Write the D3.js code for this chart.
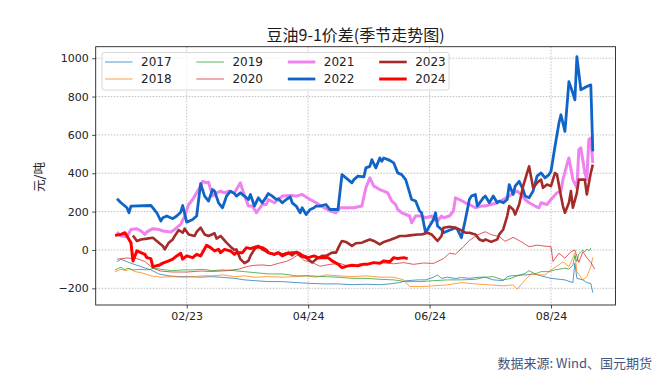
<!DOCTYPE html>
<html>
<head>
<meta charset="utf-8">
<script src="https://cdn.jsdelivr.net/npm/d3@7"></script>
<style>
  body { margin: 0; background: #fff; }
  svg text { font-family: "DejaVu Sans", sans-serif; }
</style>
</head>
<body>
<svg id="chart" width="668" height="378"></svg>
<script>
// series data, [month-day, value in 元/吨]
const years = ["2017", "2018", "2019", "2020", "2021", "2022", "2023", "2024"];
const colors = ["#1f77b4", "#ff7f0e", "#2ca02c", "#d62728", "#ee82ee", "#1064c8", "#a52a2a", "#ff0000"];
const widths = [0.9, 0.9, 0.9, 0.9, 3, 2.8, 2.6, 3];

const d2017 = [["01-19",-61],["01-21",-49],["01-26",-69],["01-31",-87],["02-05",-104],["02-09",-125],["02-14",-135],["02-19",-139],["02-23",-139],["03-01",-142],["03-06",-139],["03-11",-142],["03-18",-148],["03-23",-156],["03-28",-160],["04-04",-165],["04-11",-165],["04-18",-170],["04-25",-174],["05-02",-177],["05-09",-177],["05-16",-181],["05-23",-179],["05-30",-181],["06-04",-177],["06-09",-170],["06-12",-161],["06-18",-156],["06-22",-156],["06-26",-142],["06-28",-130],["06-30",-148],["07-03",-142],["07-07",-149],["07-10",-144],["07-14",-148],["07-19",-142],["07-22",-142],["07-26",-156],["07-31",-160],["08-02",-139],["08-04",-135],["08-11",-130],["08-16",-125],["08-19",-135],["08-24",-148],["08-31",-156],["09-04",-170],["09-05",-69],["09-06",-148],["09-09",-156],["09-11",-170],["09-13",-175],["09-14",-222]];
const d2018 = [["01-18",-113],["01-21",-101],["01-24",-108],["01-25",-95],["01-28",-113],["01-31",-118],["02-05",-135],["02-10",-142],["02-16",-139],["02-21",-142],["02-26",-139],["03-02",-135],["03-07",-135],["03-12",-130],["03-18",-139],["03-23",-135],["03-28",-142],["04-04",-139],["04-11",-142],["04-18",-139],["04-23",-135],["04-28",-142],["05-03",-130],["05-09",-135],["05-16",-139],["05-23",-135],["05-30",-142],["06-06",-142],["06-11",-156],["06-14",-191],["06-20",-191],["06-26",-187],["07-03",-182],["07-10",-170],["07-17",-177],["07-24",-182],["07-31",-187],["08-05",-182],["08-07",-205],["08-11",-156],["08-14",-125],["08-18",-130],["08-21",-130],["08-24",-104],["08-28",-78],["08-30",-61],["09-02",-87],["09-05",-17],["09-06",-113],["09-09",-156],["09-11",-139],["09-13",-87],["09-14",-38]];
const d2019 = [["01-18",-104],["01-21",-90],["01-23",-104],["01-24",-95],["01-27",-104],["01-31",-101],["02-03",-104],["02-07",-95],["02-10",-101],["02-16",-108],["02-21",-104],["02-26",-104],["03-02",-101],["03-07",-108],["03-12",-104],["03-18",-108],["03-23",-113],["03-28",-118],["04-04",-125],["04-11",-125],["04-18",-135],["04-25",-135],["05-02",-139],["05-09",-142],["05-16",-148],["05-23",-148],["05-30",-153],["06-06",-156],["06-12",-165],["06-20",-165],["06-26",-160],["07-03",-156],["07-10",-156],["07-17",-153],["07-22",-142],["07-26",-139],["07-31",-156],["08-04",-148],["08-07",-135],["08-11",-122],["08-13",-108],["08-16",-125],["08-19",-113],["08-23",-113],["08-26",-104],["08-31",-95],["09-02",-100],["09-04",-80],["09-05",-30],["09-06",-60],["09-07",-20],["09-09",0],["09-10",-10],["09-11",5],["09-12",-5],["09-13",10]];
const d2020 = [["01-19",-48],["01-24",-42],["01-29",-45],["02-02",-60],["02-06",-95],["02-10",-110],["02-16",-115],["02-23",-115],["03-01",-110],["03-07",-112],["03-14",-108],["03-20",-100],["03-25",-85],["03-28",-80],["04-01",-78],["04-05",-82],["04-09",-70],["04-13",-60],["04-16",-45],["04-19",-25],["04-22",-55],["04-26",-65],["04-30",-85],["05-05",-75],["05-10",-70],["05-15",-88],["05-20",-72],["05-25",-70],["06-01",-68],["06-06",-72],["06-11",-66],["06-16",-75],["06-21",-68],["06-26",-70],["07-01",-45],["07-04",-17],["07-07",-22],["07-11",17],["07-14",50],["07-18",78],["07-22",95],["07-25",80],["07-29",70],["08-01",45],["08-05",66],["08-09",43],["08-13",17],["08-17",25],["08-21",20],["08-24",17],["08-25",-60],["08-28",-17],["08-31",-43],["09-03",-9],["09-05",0],["09-07",-65],["09-09",-9],["09-11",-40],["09-13",-65],["09-15",-100]];
const d2021 = [["01-19",94],["01-21",73],["01-24",69],["01-26",107],["01-29",111],["01-31",99],["02-02",81],["02-03",94],["02-06",111],["02-09",107],["02-11",99],["02-15",94],["02-17",107],["02-20",133],["02-22",177],["02-24",237],["02-26",263],["02-28",298],["03-01",333],["03-02",358],["03-04",350],["03-05",353],["03-07",281],["03-09",298],["03-11",307],["03-13",298],["03-15",307],["03-18",298],["03-21",350],["03-22",315],["03-25",229],["03-27",229],["03-29",194],["04-01",237],["04-03",237],["04-04",263],["04-07",246],["04-09",263],["04-11",281],["04-15",284],["04-18",281],["04-21",289],["04-25",263],["04-28",246],["05-02",220],["05-05",203],["05-08",194],["05-10",220],["05-14",220],["05-17",220],["05-21",229],["05-23",324],["05-25",376],["05-27",333],["05-30",315],["06-01",307],["06-03",298],["06-05",255],["06-07",237],["06-08",211],["06-10",194],["06-12",185],["06-14",177],["06-15",142],["06-17",177],["06-20",177],["06-22",168],["06-25",177],["06-26",159],["06-28",151],["06-30",177],["07-01",168],["07-04",177],["07-06",203],["07-07",272],["07-09",263],["07-12",246],["07-14",237],["07-17",220],["07-20",229],["07-22",229],["07-25",237],["07-28",246],["07-31",263],["08-03",281],["08-05",298],["08-07",307],["08-09",289],["08-11",263],["08-13",246],["08-16",229],["08-18",220],["08-19",246],["08-22",237],["08-24",263],["08-27",298],["08-29",307],["08-30",367],["09-01",445],["09-02",480],["09-04",367],["09-06",324],["09-07",523],["09-08",532],["09-10",402],["09-11",367],["09-12",575],["09-13",584],["09-14",454]];
const d2022 = [["01-19",267],["01-21",246],["01-24",220],["01-25",194],["01-26",229],["02-05",232],["02-08",194],["02-10",151],["02-11",168],["02-13",177],["02-16",163],["02-18",177],["02-20",197],["02-21",232],["02-23",145],["02-26",159],["02-28",177],["03-01",346],["03-03",281],["03-05",255],["03-07",315],["03-08",307],["03-10",246],["03-12",220],["03-14",281],["03-16",307],["03-18",294],["03-19",281],["03-21",298],["03-23",281],["03-25",263],["03-26",289],["03-28",229],["03-30",272],["04-01",246],["04-03",277],["04-04",294],["04-06",281],["04-08",263],["04-09",267],["04-11",246],["04-13",263],["04-15",277],["04-16",246],["04-18",229],["04-20",194],["04-21",220],["04-23",185],["04-25",211],["04-27",220],["04-28",229],["04-30",229],["05-03",237],["05-05",211],["05-09",211],["05-11",393],["05-13",376],["05-16",350],["05-17",367],["05-19",385],["05-22",381],["05-23",428],["05-25",436],["05-26",471],["05-28",428],["05-30",480],["05-31",462],["06-01",480],["06-04",467],["06-06",454],["06-08",402],["06-10",393],["06-12",367],["06-13",333],["06-15",263],["06-17",255],["06-19",203],["06-20",194],["06-22",90],["06-24",125],["06-26",159],["06-27",194],["06-28",125],["06-30",107],["07-01",90],["07-03",99],["07-05",107],["07-07",116],["07-08",107],["07-10",64],["07-12",159],["07-14",263],["07-15",281],["07-17",289],["07-18",229],["07-21",272],["07-22",281],["07-24",246],["07-26",281],["07-28",246],["07-29",255],["07-31",246],["08-02",263],["08-03",341],["08-05",289],["08-06",333],["08-08",358],["08-10",315],["08-11",281],["08-13",272],["08-15",307],["08-17",385],["08-19",402],["08-21",376],["08-23",393],["08-24",410],["08-26",540],["08-28",662],["08-29",705],["08-31",618],["09-02",878],["09-04",817],["09-05",783],["09-06",1008],["09-08",835],["09-11",852],["09-13",861],["09-14",514]];
const d2023 = [["01-27",76],["01-29",47],["01-31",55],["02-03",59],["02-06",64],["02-09",38],["02-11",21],["02-12",3],["02-14",38],["02-16",55],["02-17",73],["02-19",104],["02-21",90],["02-22",111],["02-24",81],["02-27",73],["02-28",94],["03-01",116],["03-03",81],["03-05",73],["03-08",87],["03-09",59],["03-11",73],["03-14",38],["03-16",17],["03-18",0],["03-19",3],["03-21",-48],["03-23",-69],["03-25",-57],["03-26",-31],["03-28",3],["03-30",21],["04-01",3],["04-04",-14],["04-07",-23],["04-09",-14],["04-11",-23],["04-14",-14],["04-16",-28],["04-18",-10],["04-20",-31],["04-23",-40],["04-26",-66],["04-28",-48],["05-01",-31],["05-03",-31],["05-06",-14],["05-08",-14],["05-10",29],["05-11",47],["05-13",42],["05-16",21],["05-18",35],["05-21",38],["05-23",47],["05-25",55],["05-27",47],["05-30",29],["06-01",42],["06-04",52],["06-07",64],["06-09",73],["06-12",73],["06-14",76],["06-18",81],["06-20",81],["06-23",90],["06-25",81],["06-28",47],["06-30",73],["07-01",116],["07-04",121],["07-07",116],["07-09",107],["07-12",90],["07-14",90],["07-17",81],["07-19",55],["07-21",47],["07-22",55],["07-25",42],["07-28",55],["07-29",81],["07-31",107],["08-02",177],["08-03",229],["08-05",211],["08-06",185],["08-08",237],["08-10",333],["08-12",402],["08-13",436],["08-15",324],["08-17",350],["08-19",367],["08-20",324],["08-22",341],["08-24",333],["08-26",402],["08-27",393],["08-29",281],["08-30",229],["08-31",194],["09-02",246],["09-03",307],["09-04",220],["09-06",298],["09-07",367],["09-10",367],["09-11",289],["09-13",402],["09-14",445]];
const d2024 = [["01-18",76],["01-21",81],["01-23",90],["01-24",73],["01-26",38],["01-27",-57],["01-29",-5],["01-31",-14],["02-02",-23],["02-03",-40],["02-05",-45],["02-06",-87],["02-09",-80],["02-11",-69],["02-14",-57],["02-16",-48],["02-18",-31],["02-20",-17],["02-21",-48],["02-23",-31],["02-26",-40],["02-28",-23],["03-01",-31],["03-04",24],["03-06",12],["03-08",-5],["03-10",3],["03-11",-14],["03-13",3],["03-16",-5],["03-18",-23],["03-19",-14],["03-22",-14],["03-24",12],["03-26",7],["03-29",17],["04-01",12],["04-03",0],["04-04",-14],["04-07",-23],["04-09",-14],["04-11",-31],["04-14",-17],["04-16",-14],["04-19",-14],["04-21",-28],["04-24",-40],["04-27",-31],["04-29",-40],["05-02",-40],["05-04",-40],["05-06",-57],["05-09",-74],["05-11",-92],["05-14",-83],["05-16",-80],["05-19",-83],["05-22",-74],["05-24",-74],["05-27",-66],["05-30",-69],["06-01",-57],["06-04",-62],["06-06",-40],["06-08",-45],["06-11",-40],["06-13",-45]];

const seriesData = [d2017, d2018, d2019, d2020, d2021, d2022, d2023, d2024];
const xTicks = ["02-23", "04-24", "06-24", "08-24"];
const yTicks = [-200, 0, 200, 400, 600, 800, 1000];

const parse = s => d3.timeParse("%Y-%m-%d")("2024-" + s);

const svg = d3.select("#chart");
const plotLeft = 95.7, plotRight = 615.5, plotTop = 46.7, plotBottom = 305;

const x = d3.scaleTime()
  .domain([new Date(2024, 0, 8, 7), new Date(2024, 8, 25, 9, 36)])
  .range([plotLeft, plotRight]);
const y = d3.scaleLinear()
  .domain([-287, 1060])
  .range([plotBottom, plotTop]);

// grid
const grid = svg.append("g");
grid.selectAll(".gx").data(xTicks).enter().append("line")
  .attr("x1", d => x(parse(d))).attr("x2", d => x(parse(d)))
  .attr("y1", plotTop).attr("y2", plotBottom)
  .attr("stroke", "#b0b0b0").attr("stroke-width", 0.8).attr("stroke-dasharray", "1.5,1.5");
grid.selectAll(".gy").data(yTicks).enter().append("line")
  .attr("x1", plotLeft).attr("x2", plotRight)
  .attr("y1", d => y(d)).attr("y2", d => y(d))
  .attr("stroke", "#b0b0b0").attr("stroke-width", 0.8).attr("stroke-dasharray", "1.5,1.5");

// lines
const line = d3.line()
  .x(d => x(parse(d[0])))
  .y(d => y(d[1]));

svg.append("defs").append("clipPath").attr("id", "clip")
  .append("rect").attr("x", plotLeft).attr("y", plotTop)
  .attr("width", plotRight - plotLeft).attr("height", plotBottom - plotTop);

const lines = svg.append("g").attr("clip-path", "url(#clip)");
seriesData.forEach((data, i) => {
  lines.append("path")
    .datum(data)
    .attr("fill", "none")
    .attr("stroke", colors[i])
    .attr("stroke-width", widths[i])
    .attr("stroke-opacity", i < 4 ? 0.85 : 1)
    .attr("stroke-linejoin", "round")
    .attr("d", line);
});

// axes
const xAxis = d3.axisBottom(x)
  .tickValues(xTicks.map(parse))
  .tickFormat(d3.timeFormat("%m/%d"))
  .tickSize(3.5).tickPadding(3.5);
const yAxis = d3.axisLeft(y)
  .tickValues(yTicks)
  .tickFormat(d => d < 0 ? "\u2212" + Math.abs(d) : d)
  .tickSize(3.5).tickPadding(3.5);

const gx = svg.append("g").attr("transform", `translate(0,${plotBottom})`).call(xAxis);
const gy = svg.append("g").attr("transform", `translate(${plotLeft},0)`).call(yAxis);
[gx, gy].forEach(g => {
  g.select(".domain").remove();
  g.selectAll("line").attr("stroke", "#222").attr("stroke-width", 0.8);
  g.selectAll("text").attr("fill", "#222")
    .style("font-family", "DejaVu Sans").style("font-size", "11px");
});

svg.append("rect")
  .attr("x", plotLeft).attr("y", plotTop)
  .attr("width", plotRight - plotLeft).attr("height", plotBottom - plotTop)
  .attr("fill", "none").attr("stroke", "#222").attr("stroke-width", 0.9);

// title and labels
svg.append("text")
  .attr("x", (plotLeft + plotRight) / 2).attr("y", 40.5)
  .attr("text-anchor", "middle")
  .style("font-family", "Noto Sans CJK SC").style("font-size", "16px")
  .attr("fill", "#1a1a1a")
  .text("豆油9-1价差(季节走势图)");

svg.append("text")
  .attr("transform", "translate(44,177) rotate(-90)")
  .attr("text-anchor", "middle")
  .style("font-family", "Noto Sans CJK SC").style("font-size", "12.5px")
  .attr("fill", "#222")
  .text("元/吨");

svg.append("text")
  .attr("x", 652).attr("y", 367.5)
  .attr("text-anchor", "end")
  .style("font-family", "Noto Sans CJK SC").style("font-size", "13px")
  .attr("fill", "#45557f")
  .text("数据来源: Wind、国元期货");

// legend
const legend = svg.append("g");
legend.append("rect")
  .attr("x", 102).attr("y", 52.5).attr("width", 347).attr("height", 37.5)
  .attr("rx", 2.5)
  .attr("fill", "#fff").attr("fill-opacity", 0.8)
  .attr("stroke", "#cccccc").attr("stroke-width", 0.8);

const items = legend.selectAll(".item").data(years).enter().append("g")
  .attr("transform", (d, i) => `translate(${105 + Math.floor(i / 2) * 91.4},${i % 2 === 0 ? 62 : 79})`);
items.append("line")
  .attr("x1", 0).attr("x2", 27.5)
  .attr("stroke", (d, i) => colors[i])
  .attr("stroke-width", (d, i) => widths[i])
  .attr("stroke-opacity", (d, i) => i < 4 ? 0.85 : 1);
items.append("text")
  .attr("x", 36).attr("y", 4.2)
  .style("font-family", "DejaVu Sans").style("font-size", "12px")
  .attr("fill", "#222")
  .text(d => d);
</script>
</body>
</html>
